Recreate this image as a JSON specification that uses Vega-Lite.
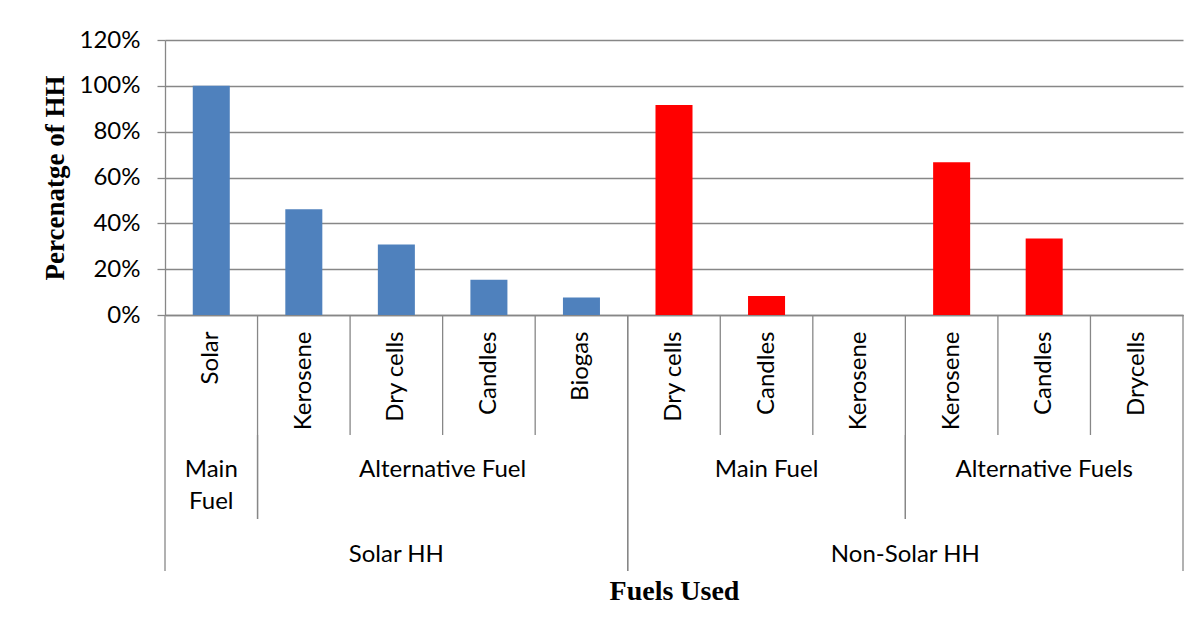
{
  "$schema": "https://vega.github.io/schema/vega-lite/v6.json",
  "background": "white",
  "padding": {"left": 41, "top": 28, "right": 5, "bottom": 5},
  "bounds": "flush",
  "spacing": 0,
  "config": {"view": {"stroke": null}},
  "datasets": {
    "bars": [
      {"hh": "Solar HH", "group": "Main Fuel", "fuel": "Solar", "key": "Solar HH|Main Fuel|Solar", "pct": 1.0},
      {"hh": "Solar HH", "group": "Alternative Fuel", "fuel": "Kerosene", "key": "Solar HH|Alternative Fuel|Kerosene", "pct": 0.4615},
      {"hh": "Solar HH", "group": "Alternative Fuel", "fuel": "Dry cells", "key": "Solar HH|Alternative Fuel|Dry cells", "pct": 0.3077},
      {"hh": "Solar HH", "group": "Alternative Fuel", "fuel": "Candles", "key": "Solar HH|Alternative Fuel|Candles", "pct": 0.1538},
      {"hh": "Solar HH", "group": "Alternative Fuel", "fuel": "Biogas", "key": "Solar HH|Alternative Fuel|Biogas", "pct": 0.0769},
      {"hh": "Non-Solar HH", "group": "Main Fuel", "fuel": "Dry cells", "key": "Non-Solar HH|Main Fuel|Dry cells", "pct": 0.9167},
      {"hh": "Non-Solar HH", "group": "Main Fuel", "fuel": "Candles", "key": "Non-Solar HH|Main Fuel|Candles", "pct": 0.0833},
      {"hh": "Non-Solar HH", "group": "Main Fuel", "fuel": "Kerosene", "key": "Non-Solar HH|Main Fuel|Kerosene", "pct": 0},
      {"hh": "Non-Solar HH", "group": "Alternative Fuels", "fuel": "Kerosene", "key": "Non-Solar HH|Alternative Fuels|Kerosene", "pct": 0.6667},
      {"hh": "Non-Solar HH", "group": "Alternative Fuels", "fuel": "Candles", "key": "Non-Solar HH|Alternative Fuels|Candles", "pct": 0.3333},
      {"hh": "Non-Solar HH", "group": "Alternative Fuels", "fuel": "Drycells", "key": "Non-Solar HH|Alternative Fuels|Drycells", "pct": 0}
    ],
    "groups": [
      {"level": "group", "label": "Main\nFuel", "first": "Solar HH|Main Fuel|Solar", "last": "Solar HH|Main Fuel|Solar", "mid": "Solar HH|Main Fuel|Solar", "even": false},
      {"level": "group", "label": "Alternative Fuel", "first": "Solar HH|Alternative Fuel|Kerosene", "last": "Solar HH|Alternative Fuel|Biogas", "mid": "Solar HH|Alternative Fuel|Candles", "even": true},
      {"level": "group", "label": "Main Fuel", "first": "Non-Solar HH|Main Fuel|Dry cells", "last": "Non-Solar HH|Main Fuel|Kerosene", "mid": "Non-Solar HH|Main Fuel|Candles", "even": false},
      {"level": "group", "label": "Alternative Fuels", "first": "Non-Solar HH|Alternative Fuels|Kerosene", "last": "Non-Solar HH|Alternative Fuels|Drycells", "mid": "Non-Solar HH|Alternative Fuels|Candles", "even": false},
      {"level": "hh", "label": "Solar HH", "first": "Solar HH|Main Fuel|Solar", "last": "Solar HH|Alternative Fuel|Biogas", "mid": "Solar HH|Alternative Fuel|Dry cells", "even": false},
      {"level": "hh", "label": "Non-Solar HH", "first": "Non-Solar HH|Main Fuel|Dry cells", "last": "Non-Solar HH|Alternative Fuels|Drycells", "mid": "Non-Solar HH|Alternative Fuels|Kerosene", "even": true}
    ]
  },
  "vconcat": [
    {
      "width": 1018,
      "height": 275,
      "data": {"name": "bars"},
      "mark": {"type": "bar", "width": {"band": 0.4}},
      "encoding": {
        "x": {
          "field": "key", "type": "nominal",
          "scale": {"domain": ["Solar HH|Main Fuel|Solar", "Solar HH|Alternative Fuel|Kerosene", "Solar HH|Alternative Fuel|Dry cells", "Solar HH|Alternative Fuel|Candles", "Solar HH|Alternative Fuel|Biogas", "Non-Solar HH|Main Fuel|Dry cells", "Non-Solar HH|Main Fuel|Candles", "Non-Solar HH|Main Fuel|Kerosene", "Non-Solar HH|Alternative Fuels|Kerosene", "Non-Solar HH|Alternative Fuels|Candles", "Non-Solar HH|Alternative Fuels|Drycells"], "paddingInner": 0, "paddingOuter": 0},
          "axis": {"title": null, "labelExpr": "split(datum.label, '|')[2]", "labelAngle": 270, "labelAlign": "right", "labelBaseline": "middle", "labelPadding": 16, "ticks": false, "grid": false, "domain": true, "domainColor": "#878787", "domainWidth": 1.3, "labelFont": "Lato", "labelFontSize": 24, "labelColor": "black"}
        },
        "y": {
          "field": "pct", "type": "quantitative",
          "scale": {"domain": [0, 1.2], "nice": false},
          "axis": {"values": [0, 0.2, 0.4, 0.6, 0.8, 1.0, 1.2], "format": ".0%", "grid": true, "gridColor": "#878787", "gridWidth": 1.3, "domain": true, "domainColor": "#878787", "domainWidth": 1.3, "tickSize": 8, "tickColor": "#878787", "tickWidth": 1.3, "labelFont": "Lato", "labelFontSize": 24, "labelColor": "black", "labelPadding": 17, "labelFlush": false, "title": "Percenatge of HH", "titleFont": "Liberation Serif", "titleFontSize": 27, "titleFontWeight": "bold", "titleColor": "black", "titlePadding": 10}
        },
        "color": {"field": "hh", "type": "nominal", "scale": {"domain": ["Solar HH", "Non-Solar HH"], "range": ["#4F81BD", "#FF0000"]}, "legend": null}
      }
    },
    {
      "width": 1018,
      "height": 120,
      "layer": [
        {
          "data": {"name": "bars"},
          "mark": {"type": "rule", "color": "#878787", "strokeWidth": 1.3},
          "encoding": {"x": {"field": "key", "type": "nominal", "bandPosition": 0, "scale": {"domain": ["Solar HH|Main Fuel|Solar", "Solar HH|Alternative Fuel|Kerosene", "Solar HH|Alternative Fuel|Dry cells", "Solar HH|Alternative Fuel|Candles", "Solar HH|Alternative Fuel|Biogas", "Non-Solar HH|Main Fuel|Dry cells", "Non-Solar HH|Main Fuel|Candles", "Non-Solar HH|Main Fuel|Kerosene", "Non-Solar HH|Alternative Fuels|Kerosene", "Non-Solar HH|Alternative Fuels|Candles", "Non-Solar HH|Alternative Fuels|Drycells"], "paddingInner": 0, "paddingOuter": 0}, "axis": null}}
        },
        {
          "data": {"name": "groups"},
          "transform": [{"filter": "datum.level == 'hh'"}],
          "mark": {"type": "rule", "color": "#878787", "strokeWidth": 1.3},
          "encoding": {"x": {"field": "last", "type": "nominal", "bandPosition": 1, "scale": {"domain": ["Solar HH|Main Fuel|Solar", "Solar HH|Alternative Fuel|Kerosene", "Solar HH|Alternative Fuel|Dry cells", "Solar HH|Alternative Fuel|Candles", "Solar HH|Alternative Fuel|Biogas", "Non-Solar HH|Main Fuel|Dry cells", "Non-Solar HH|Main Fuel|Candles", "Non-Solar HH|Main Fuel|Kerosene", "Non-Solar HH|Alternative Fuels|Kerosene", "Non-Solar HH|Alternative Fuels|Candles", "Non-Solar HH|Alternative Fuels|Drycells"], "paddingInner": 0, "paddingOuter": 0}, "axis": null}}
        }
      ]
    },
    {
      "width": 1018,
      "height": 84,
      "data": {"name": "groups"},
      "transform": [{"filter": "datum.level == 'group'"}],
      "layer": [
        {
          "mark": {"type": "rule", "color": "#878787", "strokeWidth": 1.3},
          "encoding": {"x": {"field": "first", "type": "nominal", "bandPosition": 0, "scale": {"domain": ["Solar HH|Main Fuel|Solar", "Solar HH|Alternative Fuel|Kerosene", "Solar HH|Alternative Fuel|Dry cells", "Solar HH|Alternative Fuel|Candles", "Solar HH|Alternative Fuel|Biogas", "Non-Solar HH|Main Fuel|Dry cells", "Non-Solar HH|Main Fuel|Candles", "Non-Solar HH|Main Fuel|Kerosene", "Non-Solar HH|Alternative Fuels|Kerosene", "Non-Solar HH|Alternative Fuels|Candles", "Non-Solar HH|Alternative Fuels|Drycells"], "paddingInner": 0, "paddingOuter": 0}, "axis": null}}
        },
        {
          "mark": {"type": "rule", "color": "#878787", "strokeWidth": 1.3},
          "encoding": {"x": {"field": "last", "type": "nominal", "bandPosition": 1, "axis": null}}
        },
        {
          "transform": [{"filter": "datum.even"}],
          "mark": {"type": "text", "font": "Lato", "fontSize": 24, "color": "black", "baseline": "top", "dy": -19, "lineBreak": "\n", "lineHeight": 32},
          "encoding": {"x": {"field": "mid", "type": "nominal", "bandPosition": 0, "axis": null}, "text": {"field": "label"}}
        },
        {
          "transform": [{"filter": "!datum.even"}],
          "mark": {"type": "text", "font": "Lato", "fontSize": 24, "color": "black", "baseline": "top", "dy": -19, "lineBreak": "\n", "lineHeight": 32},
          "encoding": {"x": {"field": "mid", "type": "nominal", "bandPosition": 0.5, "axis": null}, "text": {"field": "label"}}
        }
      ]
    },
    {
      "width": 1018,
      "height": 52,
      "data": {"name": "groups"},
      "transform": [{"filter": "datum.level == 'hh'"}],
      "layer": [
        {
          "mark": {"type": "rule", "color": "#878787", "strokeWidth": 1.3},
          "encoding": {"x": {"field": "first", "type": "nominal", "bandPosition": 0, "scale": {"domain": ["Solar HH|Main Fuel|Solar", "Solar HH|Alternative Fuel|Kerosene", "Solar HH|Alternative Fuel|Dry cells", "Solar HH|Alternative Fuel|Candles", "Solar HH|Alternative Fuel|Biogas", "Non-Solar HH|Main Fuel|Dry cells", "Non-Solar HH|Main Fuel|Candles", "Non-Solar HH|Main Fuel|Kerosene", "Non-Solar HH|Alternative Fuels|Kerosene", "Non-Solar HH|Alternative Fuels|Candles", "Non-Solar HH|Alternative Fuels|Drycells"], "paddingInner": 0, "paddingOuter": 0}, "axis": {"title": "Fuels Used", "labels": false, "ticks": false, "domain": false, "grid": false, "titleFont": "Liberation Serif", "titleFontSize": 28, "titleFontWeight": "bold", "titleColor": "black", "titlePadding": 6}}}
        },
        {
          "mark": {"type": "rule", "color": "#878787", "strokeWidth": 1.3},
          "encoding": {"x": {"field": "last", "type": "nominal", "bandPosition": 1}}
        },
        {
          "transform": [{"filter": "datum.even"}],
          "mark": {"type": "text", "font": "Lato", "fontSize": 24, "color": "black", "baseline": "top", "dy": -2},
          "encoding": {"x": {"field": "mid", "type": "nominal", "bandPosition": 0}, "text": {"field": "label"}}
        },
        {
          "transform": [{"filter": "!datum.even"}],
          "mark": {"type": "text", "font": "Lato", "fontSize": 24, "color": "black", "baseline": "top", "dy": -2},
          "encoding": {"x": {"field": "mid", "type": "nominal", "bandPosition": 0.5}, "text": {"field": "label"}}
        }
      ]
    }
  ]
}
